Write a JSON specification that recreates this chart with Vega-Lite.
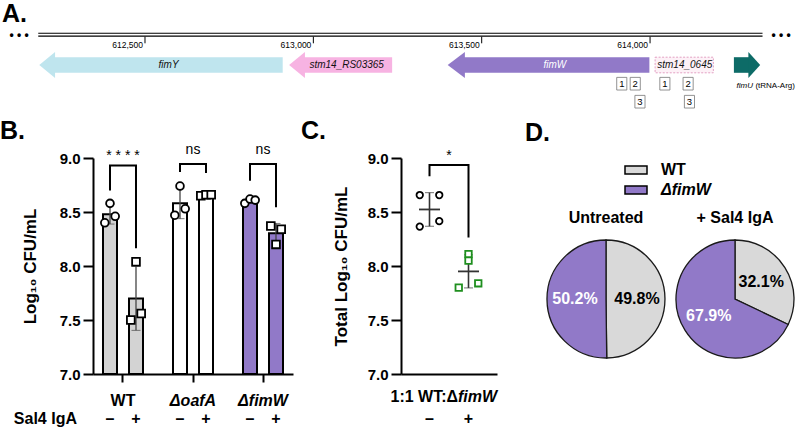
{
  "$schema": "https://vega.github.io/schema/vega-lite/v6.json",
  "background": "white",
  "padding": 0,
  "spacing": 9,
  "config": {
    "font": "Liberation Sans",
    "view": {"stroke": null},
    "axis": {"labelColor": "black", "titleColor": "black", "domainColor": "black", "tickColor": "black", "grid": false},
    "title": {"fontSize": 25, "fontWeight": "bold", "anchor": "start", "color": "black", "frame": "group"},
    "header": {"labelColor": "black"}
  },
  "resolve": {"scale": {"color": "independent", "xOffset": "independent", "shape": "independent", "stroke": "independent", "x": "independent", "y": "independent"}, "legend": {"color": "independent"}},
  "vconcat": [
    {
      "width": 704,
      "height": 110,
      "layer": [
        {"data": {"values": [{"bp": 612075, "y": 2.2}]}, "mark": {"type": "text", "align": "left", "baseline": "alphabetic", "fontSize": 25, "fontWeight": "bold", "color": "black"},
         "encoding": {"x": {"field": "bp", "type": "quantitative", "scale": {"domain": [612345.6, 614436.4], "nice": false, "zero": false}, "axis": null}, "y": {"field": "y", "type": "quantitative", "scale": {"domain": [0, 11], "reverse": true, "nice": false, "zero": false}, "axis": null}, "text": {"value": "A."}}},
        {"data": {"values": [{"bp": 612183, "bp2": 614334, "y": 3.33}, {"bp": 612183, "bp2": 614334, "y": 3.61}]}, "mark": {"type": "rule", "strokeWidth": 1.1, "color": "black"},
         "encoding": {"x": {"field": "bp", "type": "quantitative"}, "x2": {"field": "bp2"}, "y": {"field": "y", "type": "quantitative"}}},
        {"data": {"values": [{"bp": 612126, "y": 3.47}, {"bp": 614389, "y": 3.47}]}, "mark": {"type": "text", "fontSize": 12, "fontWeight": "bold", "baseline": "middle", "color": "black"},
         "encoding": {"x": {"field": "bp", "type": "quantitative"}, "y": {"field": "y", "type": "quantitative"}, "text": {"value": "• • •"}}},
        {"data": {"values": [{"bp": 612500, "y": 3.67, "y2v": 4.33}, {"bp": 613000, "y": 3.67, "y2v": 4.33}, {"bp": 613500, "y": 3.67, "y2v": 4.33}, {"bp": 614000, "y": 3.67, "y2v": 4.33}]}, "mark": {"type": "rule", "strokeWidth": 1, "color": "black"},
         "encoding": {"x": {"field": "bp", "type": "quantitative"}, "y": {"field": "y", "type": "quantitative"}, "y2": {"field": "y2v"}}},
        {"data": {"values": [{"bp": 612500, "y": 4.5, "lab": "612,500"}, {"bp": 613000, "y": 4.5, "lab": "613,000"}, {"bp": 613500, "y": 4.5, "lab": "613,500"}, {"bp": 614000, "y": 4.5, "lab": "614,000"}]}, "mark": {"type": "text", "align": "right", "baseline": "middle", "dx": -2, "fontSize": 8.5, "color": "black"},
         "encoding": {"x": {"field": "bp", "type": "quantitative"}, "y": {"field": "y", "type": "quantitative"}, "text": {"field": "lab"}}},
        {"data": {"values": [{"gene": "fimY", "bp": 612230, "bp2": 612909, "y": 5.72, "y2v": 7.28}, {"gene": "stm14_RS03365", "bp": 612972, "bp2": 613234, "y": 5.72, "y2v": 7.28}, {"gene": "fimW", "bp": 613447, "bp2": 613998, "y": 5.72, "y2v": 7.28}, {"gene": "fimU", "bp": 614249, "bp2": 614295, "y": 5.72, "y2v": 7.28}]},
         "mark": {"type": "rect"},
         "encoding": {"x": {"field": "bp", "type": "quantitative"}, "x2": {"field": "bp2"}, "y": {"field": "y", "type": "quantitative"}, "y2": {"field": "y2v"}, "color": {"field": "gene", "type": "nominal", "scale": {"domain": ["fimY", "stm14_RS03365", "fimW", "fimU"], "range": ["#bfe5ee", "#f7b3e2", "#9179c8", "#0d6b67"]}, "legend": null}}},
        {"data": {"values": [
          {"gene": "fimY", "bp": 612186, "y": 6.5, "y2v": 6.5}, {"gene": "fimY", "bp": 612233, "y": 5.2, "y2v": 7.8},
          {"gene": "stm14_RS03365", "bp": 612928, "y": 6.5, "y2v": 6.5}, {"gene": "stm14_RS03365", "bp": 612975, "y": 5.2, "y2v": 7.8},
          {"gene": "fimW", "bp": 613399, "y": 6.5, "y2v": 6.5}, {"gene": "fimW", "bp": 613450, "y": 5.2, "y2v": 7.8},
          {"gene": "fimU", "bp": 614292, "y": 5.2, "y2v": 7.8}, {"gene": "fimU", "bp": 614327, "y": 6.5, "y2v": 6.5}
        ]},
         "mark": {"type": "area", "orient": "vertical"},
         "encoding": {"x": {"field": "bp", "type": "quantitative"}, "y": {"field": "y", "type": "quantitative", "stack": null}, "y2": {"field": "y2v"}, "color": {"field": "gene", "type": "nominal", "legend": null}}},
        {"data": {"values": [{"bp": 614015, "bp2": 614188, "y": 5.72, "y2v": 7.28}]}, "mark": {"type": "rect", "fill": "#fdf1f7", "stroke": "#e3a0c3", "strokeWidth": 1, "strokeDash": [2, 1.5]},
         "encoding": {"x": {"field": "bp", "type": "quantitative"}, "x2": {"field": "bp2"}, "y": {"field": "y", "type": "quantitative"}, "y2": {"field": "y2v"}}},
        {"data": {"values": [{"bp": 612570, "y": 6.5, "lab": "fimY"}, {"bp": 613099, "y": 6.5, "lab": "stm14_RS03365"}, {"bp": 613717, "y": 6.5, "lab": "fimW"}, {"bp": 614103, "y": 6.5, "lab": "stm14_0645"}]},
         "mark": {"type": "text", "fontSize": 10, "fontStyle": "italic", "baseline": "middle"},
         "encoding": {"x": {"field": "bp", "type": "quantitative"}, "y": {"field": "y", "type": "quantitative"}, "text": {"field": "lab"}, "color": {"condition": {"test": "datum.lab === 'fimW'", "value": "white"}, "value": "#111111"}}},
        {"data": {"values": [{"bp": 614257, "y": 8.6}]}, "mark": {"type": "text", "fontSize": 8, "fontStyle": "italic", "align": "left", "baseline": "middle", "color": "black"},
         "encoding": {"x": {"field": "bp", "type": "quantitative"}, "y": {"field": "y", "type": "quantitative"}, "text": {"value": "fimU"}}},
        {"data": {"values": [{"bp": 614257, "y": 8.6}]}, "mark": {"type": "text", "fontSize": 8, "align": "left", "baseline": "middle", "dx": 18.8, "color": "black"},
         "encoding": {"x": {"field": "bp", "type": "quantitative"}, "y": {"field": "y", "type": "quantitative"}, "text": {"value": "(tRNA-Arg)"}}},
        {"data": {"values": [{"bp": 613916, "y": 8.37, "n": "1"}, {"bp": 613956, "y": 8.37, "n": "2"}, {"bp": 613970, "y": 10.17, "n": "3"}, {"bp": 614044, "y": 8.37, "n": "1"}, {"bp": 614113, "y": 8.37, "n": "2"}, {"bp": 614117, "y": 10.17, "n": "3"}]},
         "mark": {"type": "point", "shape": "M-0.8,-1L0.8,-1L0.8,1L-0.8,1Z", "size": 160, "filled": true, "fill": "white", "stroke": "#777777", "strokeWidth": 0.8, "opacity": 1},
         "encoding": {"x": {"field": "bp", "type": "quantitative"}, "y": {"field": "y", "type": "quantitative"}}},
        {"data": {"values": [{"bp": 613916, "y": 8.37, "n": "1"}, {"bp": 613956, "y": 8.37, "n": "2"}, {"bp": 613970, "y": 10.17, "n": "3"}, {"bp": 614044, "y": 8.37, "n": "1"}, {"bp": 614113, "y": 8.37, "n": "2"}, {"bp": 614117, "y": 10.17, "n": "3"}]},
         "mark": {"type": "text", "fontSize": 9.5, "baseline": "middle", "color": "black"},
         "encoding": {"x": {"field": "bp", "type": "quantitative"}, "y": {"field": "y", "type": "quantitative"}, "text": {"field": "n"}}}
      ]
    },
    {
      "spacing": 27,
      "resolve": {"scale": {"color": "independent", "xOffset": "independent", "shape": "independent", "stroke": "independent", "x": "independent", "y": "independent"}, "legend": {"color": "independent"}},
      "hconcat": [
        {
          "spacing": 8,
          "resolve": {"scale": {"color": "independent", "xOffset": "independent", "shape": "independent", "stroke": "independent", "x": "independent", "y": "independent"}, "legend": {"color": "independent"}},
          "hconcat": [
            {
              "width": 200,
              "height": 216,
              "title": {"text": "B.", "dx": -93, "offset": -1},
              "data": {"values": [
                {"group": "WT", "treat": "–", "slot": "–", "v": 8.58},
                {"group": "WT", "treat": "–", "slot": "–r", "v": 8.46},
                {"group": "WT", "treat": "–", "slot": "–l", "v": 8.40},
                {"group": "WT", "treat": "+", "slot": "+", "v": 8.04},
                {"group": "WT", "treat": "+", "slot": "+r", "v": 7.56},
                {"group": "WT", "treat": "+", "slot": "+l", "v": 7.50},
                {"group": "ΔoafA", "treat": "–", "slot": "–", "v": 8.74},
                {"group": "ΔoafA", "treat": "–", "slot": "–r", "v": 8.53},
                {"group": "ΔoafA", "treat": "–", "slot": "–l", "v": 8.47},
                {"group": "ΔoafA", "treat": "+", "slot": "+l", "v": 8.65},
                {"group": "ΔoafA", "treat": "+", "slot": "+", "v": 8.66},
                {"group": "ΔoafA", "treat": "+", "slot": "+r", "v": 8.66},
                {"group": "ΔfimW", "treat": "–", "slot": "–l", "v": 8.58},
                {"group": "ΔfimW", "treat": "–", "slot": "–", "v": 8.62},
                {"group": "ΔfimW", "treat": "–", "slot": "–r", "v": 8.61},
                {"group": "ΔfimW", "treat": "+", "slot": "+l", "v": 8.37},
                {"group": "ΔfimW", "treat": "+", "slot": "+r", "v": 8.34},
                {"group": "ΔfimW", "treat": "+", "slot": "+", "v": 8.20}
              ]},
              "layer": [
                {"mark": {"type": "bar", "width": 14, "stroke": "black", "strokeWidth": 2},
                 "encoding": {
                   "x": {"field": "group", "type": "nominal", "sort": ["WT", "ΔoafA", "ΔfimW"], "scale": {"paddingInner": 0.4057, "paddingOuter": 0.1314},
                         "axis": {"title": null, "labelAngle": 0, "labelFontSize": 16, "labelFontWeight": "bold", "labelFontStyle": {"condition": {"test": "datum.label === 'WT'", "value": "normal"}, "value": "italic"}, "labelPadding": 10, "tickSize": 8, "tickWidth": 2, "domainWidth": 2}},
                   "xOffset": {"field": "treat", "type": "nominal", "scale": {"domain": ["–l", "–", "–r", "g1", "g2", "+l", "+", "+r"], "paddingInner": 0, "paddingOuter": 0}},
                   "y": {"aggregate": "mean", "field": "v", "type": "quantitative", "stack": null, "scale": {"domain": [7, 9], "nice": false, "zero": false},
                         "axis": {"title": "Log₁₀ CFU/mL", "titleFontSize": 17, "titleFontWeight": "bold", "titlePadding": 20, "values": [7, 7.5, 8, 8.5, 9], "format": ".1f", "labelFontSize": 15, "labelFontWeight": "bold", "labelPadding": 3, "tickSize": 10, "tickWidth": 2, "domainWidth": 2}},
                   "y2": {"datum": 7},
                   "color": {"field": "group", "type": "nominal", "scale": {"domain": ["WT", "ΔoafA", "ΔfimW"], "range": ["#d3d3d3", "#ffffff", "#9179c8"]}, "legend": null}
                 }},
                {"mark": {"type": "errorbar", "extent": "stdev", "ticks": {"size": 9, "color": "#444444", "strokeWidth": 1.3}, "rule": {"color": "#444444", "strokeWidth": 1.3}},
                 "encoding": {
                   "x": {"field": "group", "type": "nominal", "sort": ["WT", "ΔoafA", "ΔfimW"]},
                   "xOffset": {"field": "treat", "type": "nominal"},
                   "y": {"field": "v", "type": "quantitative", "title": "Log₁₀ CFU/mL"}
                 }},
                {"mark": {"type": "point", "filled": true, "fill": "white", "stroke": "black", "strokeWidth": 1.8, "size": 60, "opacity": 1},
                 "encoding": {
                   "x": {"field": "group", "type": "nominal", "sort": ["WT", "ΔoafA", "ΔfimW"]},
                   "xOffset": {"field": "slot", "type": "nominal"},
                   "y": {"field": "v", "type": "quantitative", "title": "Log₁₀ CFU/mL"},
                   "shape": {"field": "treat", "type": "nominal", "scale": {"domain": ["–", "+"], "range": ["circle", "square"]}, "legend": null}
                 }},
                {"data": {"values": [
                  {"group": "WT", "treat": "–", "v": 8.70, "k": 1}, {"group": "WT", "treat": "–", "v": 8.93, "k": 2}, {"group": "WT", "treat": "+", "v": 8.93, "k": 3}, {"group": "WT", "treat": "+", "v": 8.165, "k": 4},
                  {"group": "ΔoafA", "treat": "–", "v": 8.87, "k": 1}, {"group": "ΔoafA", "treat": "–", "v": 8.945, "k": 2}, {"group": "ΔoafA", "treat": "+", "v": 8.945, "k": 3}, {"group": "ΔoafA", "treat": "+", "v": 8.86, "k": 4},
                  {"group": "ΔfimW", "treat": "–", "v": 8.79, "k": 1}, {"group": "ΔfimW", "treat": "–", "v": 8.945, "k": 2}, {"group": "ΔfimW", "treat": "+", "v": 8.945, "k": 3}, {"group": "ΔfimW", "treat": "+", "v": 8.545, "k": 4}
                 ]},
                 "mark": {"type": "line", "color": "black", "strokeWidth": 2},
                 "encoding": {
                   "x": {"field": "group", "type": "nominal", "sort": ["WT", "ΔoafA", "ΔfimW"]},
                   "xOffset": {"field": "treat", "type": "nominal"},
                   "y": {"field": "v", "type": "quantitative", "title": "Log₁₀ CFU/mL"},
                   "order": {"field": "k", "type": "quantitative"},
                   "detail": {"field": "group", "type": "nominal"}
                 }},
                {"data": {"values": [{"group": "WT", "v": 8.98, "lab": "* * * *"}, {"group": "ΔoafA", "v": 9.037, "lab": "ns"}, {"group": "ΔfimW", "v": 9.037, "lab": "ns"}]},
                 "mark": {"type": "text", "fontSize": 14, "baseline": "alphabetic", "color": "black"},
                 "encoding": {
                   "x": {"field": "group", "type": "nominal", "sort": ["WT", "ΔoafA", "ΔfimW"]},
                   "y": {"field": "v", "type": "quantitative", "title": "Log₁₀ CFU/mL"},
                   "text": {"field": "lab"}
                 }},
                {"data": {"values": [{"group": "WT", "treat": "–"}, {"group": "WT", "treat": "+"}, {"group": "ΔoafA", "treat": "–"}, {"group": "ΔoafA", "treat": "+"}, {"group": "ΔfimW", "treat": "–"}, {"group": "ΔfimW", "treat": "+"}]},
                 "mark": {"type": "text", "fontSize": 16, "fontWeight": "bold", "baseline": "middle", "color": "black"},
                 "encoding": {
                   "x": {"field": "group", "type": "nominal", "sort": ["WT", "ΔoafA", "ΔfimW"]},
                   "xOffset": {"field": "treat", "type": "nominal"},
                   "y": {"datum": 6.585},
                   "text": {"field": "treat"}
                 }},
                {"data": {"values": [{"group": "WT", "treat": "–"}]},
                 "mark": {"type": "text", "fontSize": 16, "fontWeight": "bold", "baseline": "middle", "align": "right", "dx": -33, "color": "black"},
                 "encoding": {
                   "x": {"field": "group", "type": "nominal", "sort": ["WT", "ΔoafA", "ΔfimW"]},
                   "xOffset": {"field": "treat", "type": "nominal"},
                   "y": {"datum": 6.585},
                   "text": {"value": "Sal4 IgA"}
                 }}
              ]
            },
            {
              "width": 96,
              "height": 216,
              "title": {"text": "C.", "dx": -100, "offset": 5},
              "data": {"values": [
                {"treat": "–", "slot": "l", "v": 8.657},
                {"treat": "–", "slot": "r", "v": 8.657},
                {"treat": "–", "slot": "l", "v": 8.365},
                {"treat": "–", "slot": "r", "v": 8.415},
                {"treat": "+", "slot": "c", "v": 8.11},
                {"treat": "+", "slot": "c", "v": 8.05},
                {"treat": "+", "slot": "l", "v": 7.80},
                {"treat": "+", "slot": "r", "v": 7.84}
              ]},
              "layer": [
                {"mark": {"type": "errorbar", "extent": "stdev", "ticks": {"size": 9, "color": "#333333", "strokeWidth": 1.6}, "rule": {"color": "#333333", "strokeWidth": 1.6}},
                 "encoding": {
                   "x": {"field": "treat", "type": "nominal", "scale": {"domain": ["–", "·", "+"], "paddingInner": 0, "paddingOuter": 0.9615}, "axis": {"title": null, "labels": false, "ticks": false, "domainWidth": 2}},
                   "y": {"field": "v", "type": "quantitative", "scale": {"domain": [7, 9], "nice": false, "zero": false},
                         "axis": {"title": "Total Log₁₀ CFU/mL", "titleFontSize": 17, "titleFontWeight": "bold", "titlePadding": 17, "values": [7, 7.5, 8, 8.5, 9], "format": ".1f", "labelFontSize": 15, "labelFontWeight": "bold", "labelPadding": 3, "tickSize": 10, "tickWidth": 2, "domainWidth": 2}}
                 }},
                {"mark": {"type": "tick", "size": 21, "thickness": 1.8, "color": "#333333"},
                 "encoding": {
                   "x": {"field": "treat", "type": "nominal"},
                   "y": {"aggregate": "mean", "field": "v", "type": "quantitative", "title": "Total Log₁₀ CFU/mL"}
                 }},
                {"mark": {"type": "point", "filled": true, "fill": "white", "strokeWidth": 1.8, "size": 42, "opacity": 1},
                 "encoding": {
                   "x": {"field": "treat", "type": "nominal"},
                   "xOffset": {"field": "slot", "type": "nominal", "scale": {"domain": ["l", "c", "r"], "paddingInner": 0, "paddingOuter": 0}},
                   "y": {"field": "v", "type": "quantitative", "title": "Total Log₁₀ CFU/mL"},
                   "shape": {"field": "treat", "type": "nominal", "scale": {"domain": ["–", "+"], "range": ["circle", "square"]}, "legend": null},
                   "stroke": {"field": "treat", "type": "nominal", "scale": {"domain": ["–", "+"], "range": ["#000000", "#1f8f1f"]}, "legend": null}
                 }},
                {"data": {"values": [{"treat": "–", "v": 8.83, "k": 1}, {"treat": "–", "v": 8.935, "k": 2}, {"treat": "+", "v": 8.935, "k": 3}, {"treat": "+", "v": 8.265, "k": 4}]},
                 "mark": {"type": "line", "color": "black", "strokeWidth": 2},
                 "encoding": {
                   "x": {"field": "treat", "type": "nominal"},
                   "y": {"field": "v", "type": "quantitative", "title": "Total Log₁₀ CFU/mL"},
                   "order": {"field": "k", "type": "quantitative"}
                 }},
                {"data": {"values": [{"treat": "·", "v": 8.98, "lab": "*"}]},
                 "mark": {"type": "text", "fontSize": 14, "baseline": "alphabetic", "color": "black"},
                 "encoding": {"x": {"field": "treat", "type": "nominal"}, "y": {"field": "v", "type": "quantitative", "title": "Total Log₁₀ CFU/mL"}, "text": {"field": "lab"}}},
                {"data": {"values": [{"treat": "–"}, {"treat": "+"}]},
                 "mark": {"type": "text", "fontSize": 16, "fontWeight": "bold", "baseline": "middle", "color": "black"},
                 "encoding": {"x": {"field": "treat", "type": "nominal"}, "y": {"datum": 6.585}, "text": {"field": "treat"}}},
                {"data": {"values": [{"treat": "·"}]},
                 "mark": {"type": "text", "fontSize": 16, "fontWeight": "bold", "baseline": "middle", "align": "right", "dx": 9, "color": "black"},
                 "encoding": {"x": {"field": "treat", "type": "nominal"}, "y": {"datum": 6.79}, "text": {"value": "1:1 WT:Δ"}}},
                {"data": {"values": [{"treat": "·"}]},
                 "mark": {"type": "text", "fontSize": 16, "fontWeight": "bold", "fontStyle": "italic", "baseline": "middle", "align": "left", "dx": 9, "color": "black"},
                 "encoding": {"x": {"field": "treat", "type": "nominal"}, "y": {"datum": 6.79}, "text": {"value": "fimW"}}}
              ]
            }
          ]
        },
        {
          "title": {"text": "D.", "dx": -22, "offset": 12},
          "data": {"values": [
            {"cond": "Untreated", "kind": "slice", "strain": "WT", "pct": 49.8, "lab": "49.8%"},
            {"cond": "Untreated", "kind": "slice", "strain": "ΔfimW", "pct": 50.2, "lab": "50.2%"},
            {"cond": "+ Sal4 IgA", "kind": "slice", "strain": "WT", "pct": 32.1, "lab": "32.1%"},
            {"cond": "+ Sal4 IgA", "kind": "slice", "strain": "ΔfimW", "pct": 67.9, "lab": "67.9%"},
            {"cond": "Untreated", "kind": "title", "lab": "Untreated"},
            {"cond": "+ Sal4 IgA", "kind": "title", "lab": "+ Sal4 IgA"}
          ]},
          "facet": {"column": {"field": "cond", "type": "nominal", "sort": ["Untreated", "+ Sal4 IgA"], "header": {"title": null, "labels": false}}},
          "spacing": 5,
          "spec": {
            "width": 118,
            "height": 216,
            "layer": [
              {"transform": [{"filter": "datum.kind === 'slice'"}],
               "mark": {"type": "arc", "outerRadius": 59, "stroke": "#1a1a1a", "strokeWidth": 1.3},
               "encoding": {
                 "y": {"field": "kind", "type": "nominal", "scale": {"type": "point", "domain": ["title", "slice"], "padding": 0.9136, "align": 0.4628}, "axis": null},
                 "theta": {"field": "pct", "type": "quantitative", "stack": true},
                 "order": {"field": "strain", "type": "nominal", "sort": "ascending"},
                 "color": {"field": "strain", "type": "nominal", "scale": {"domain": ["WT", "ΔfimW"], "range": ["#d9d9d9", "#9179c8"]},
                           "legend": {"orient": "none", "legendX": 77, "legendY": 0, "title": null, "symbolType": "M-1,-0.36L1,-0.36L1,0.36L-1,0.36Z", "symbolSize": 484, "symbolStrokeColor": "black", "symbolStrokeWidth": 1.5, "labelFontSize": 16, "labelFontWeight": "bold", "labelColor": "black", "labelOffset": 13, "rowPadding": -2,
                                      "encode": {"labels": {"update": {"fontStyle": {"signal": "datum.label === 'WT' ? 'normal' : 'italic'"}}}}}}
               }},
              {"transform": [{"filter": "datum.kind === 'slice'"}],
               "mark": {"type": "text", "radius": 31, "fontSize": 16, "fontWeight": "bold"},
               "encoding": {
                 "y": {"field": "kind", "type": "nominal", "axis": null},
                 "theta": {"field": "pct", "type": "quantitative", "stack": true},
                 "order": {"field": "strain", "type": "nominal", "sort": "ascending"},
                 "detail": {"field": "strain", "type": "nominal"},
                 "text": {"field": "lab"},
                 "color": {"condition": {"test": "datum.strain === 'WT'", "value": "black"}, "value": "white"}
               }},
              {"transform": [{"filter": "datum.kind === 'title'"}],
               "mark": {"type": "text", "fontSize": 16, "fontWeight": "bold", "baseline": "alphabetic", "color": "black"},
               "encoding": {
                 "y": {"field": "kind", "type": "nominal", "axis": null},
                 "text": {"field": "lab"}
               }}
            ]
          }
        }
      ]
    }
  ]
}
